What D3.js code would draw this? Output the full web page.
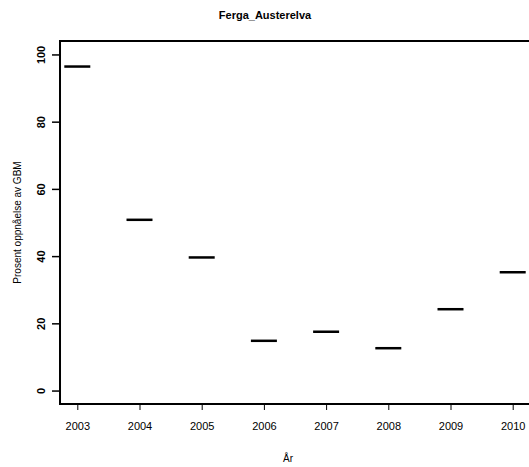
<!DOCTYPE html>
<html>
<head>
<meta charset="utf-8">
<script src="https://cdn.jsdelivr.net/npm/d3@7"></script>
<style>
  html, body { margin: 0; padding: 0; background: #fff; }
  svg { display: block; }
  text { font-family: "Liberation Sans", Arial, sans-serif; }
</style>
</head>
<body>
<svg id="chart" width="529" height="467"></svg>
<script>
const years = [2003, 2004, 2005, 2006, 2007, 2008, 2009, 2010];
const values = [96.4, 50.8, 39.6, 14.8, 17.5, 12.6, 24.2, 35.2];
const yTicks = [0, 20, 40, 60, 80, 100];
const title = "Ferga_Austerelva";
const xTitle = "År";
const yTitle = "Prosent oppnåelse av GBM";

const svg = d3.select("#chart");

const x = d3.scaleLinear().domain([2003, 2010]).range([77.3, 512.7]);
const y = d3.scaleLinear().domain([-4, 104]).range([404, 41]);

const plotL = x(2003 - 0.278), plotR = x(2010 + 0.5);
const plotT = y(104), plotB = y(-4);

// frame
svg.append("rect")
  .attr("x", plotL).attr("y", plotT)
  .attr("width", plotR - plotL).attr("height", plotB - plotT)
  .attr("fill", "none").attr("stroke", "#000").attr("stroke-width", 2);

// medians (single-value boxplots)
const halfW = 13;
svg.append("g").selectAll("line").data(years).join("line")
  .attr("x1", (d) => x(d) - halfW)
  .attr("x2", (d) => x(d) + halfW)
  .attr("y1", (d, i) => y(values[i]))
  .attr("y2", (d, i) => y(values[i]))
  .attr("stroke", "#000").attr("stroke-width", 2.5);

// y axis
const yAxis = svg.append("g")
  .attr("transform", `translate(${plotL},0)`)
  .call(d3.axisLeft(y).tickValues(yTicks).tickSize(8).tickPadding(0));
yAxis.select(".domain").remove();
yAxis.selectAll(".tick line").attr("stroke", "#000").attr("stroke-width", 1.5);
yAxis.selectAll(".tick text")
  .attr("x", 0).attr("dy", null)
  .attr("transform", "translate(-19,0) rotate(-90)")
  .attr("text-anchor", "middle")
  .attr("dominant-baseline", "central")
  .attr("font-size", 11).attr("font-weight", "bold")
  .attr("font-family", "Liberation Sans, Arial, sans-serif")
  .attr("fill", "#000");

// x axis
const xAxis = svg.append("g")
  .attr("transform", `translate(0,${plotB})`)
  .call(d3.axisBottom(x).tickValues(years).tickFormat(d3.format("d")).tickSize(6).tickPadding(12));
xAxis.select(".domain").remove();
xAxis.selectAll(".tick line").attr("stroke", "#000").attr("stroke-width", 1);
xAxis.selectAll(".tick text")
  .attr("font-size", 11)
  .attr("font-family", "Liberation Sans, Arial, sans-serif")
  .attr("fill", "#000");

// titles
svg.append("text")
  .attr("x", 265).attr("y", 19)
  .attr("text-anchor", "middle")
  .attr("font-size", 11).attr("font-weight", "bold")
  .text(title);

svg.append("text")
  .attr("x", 288).attr("y", 462)
  .attr("text-anchor", "middle")
  .attr("font-size", 10)
  .text(xTitle);

svg.append("text")
  .attr("transform", `translate(17,${(plotT + plotB) / 2}) rotate(-90)`)
  .attr("text-anchor", "middle")
  .attr("dominant-baseline", "central")
  .attr("font-size", 10)
  .text(yTitle);
</script>
</body>
</html>
